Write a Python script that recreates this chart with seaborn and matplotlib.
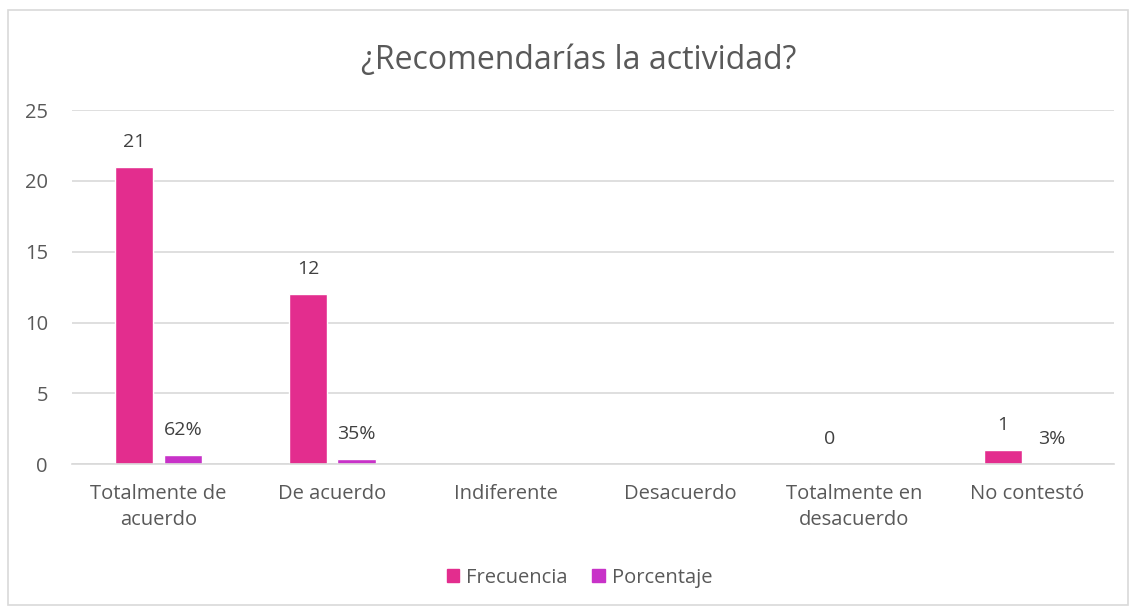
import numpy as np
import pandas as pd
import matplotlib.pyplot as plt
import seaborn as sns
from matplotlib.patches import Rectangle

categories = ["Totalmente de\nacuerdo", "De acuerdo", "Indiferente", "Desacuerdo",
              "Totalmente en\ndesacuerdo", "No contestó"]
frecuencia = [21, 12, np.nan, np.nan, 0, 1]
porcentaje = [0.62, 0.35, np.nan, np.nan, np.nan, 0.03]
series = ["Frecuencia", "Porcentaje"]
colors = ["#E32D8E", "#C832C8"]

df = pd.DataFrame({
    "categoria": categories * 2,
    "valor": frecuencia + porcentaje,
    "serie": [series[0]] * len(categories) + [series[1]] * len(categories),
})

sns.set_style("white")
plt.rcParams["font.family"] = ["Open Sans", "DejaVu Sans"]
text_color = "#595959"

fig = plt.figure(figsize=(11.36, 6.09), dpi=100)
ax = fig.add_axes([0.063, 0.238, 0.918, 0.581])

sns.barplot(data=df, x="categoria", y="valor", hue="serie", order=categories,
            hue_order=series, palette=colors, width=0.56, gap=0.21,
            saturation=1, legend=False, ax=ax)

# data labels
for si, cont in enumerate(ax.containers):
    vals = frecuencia if si == 0 else porcentaje
    for bar in cont:
        h = bar.get_height()
        if np.isnan(h):
            continue
        i = int(round(bar.get_x() + bar.get_width() / 2))
        v = vals[i]
        if np.isnan(v):
            continue
        txt = f"{v:.0f}" if si == 0 else f"{v * 100:.0f}%"
        ax.annotate(txt, (bar.get_x() + bar.get_width() / 2, h), xytext=(0, 18),
                    textcoords="offset points", ha="center", va="center",
                    fontsize=14, color="#404040")

ax.set_ylim(0, 25)
ax.set_yticks(range(0, 26, 5))
ax.set_xlim(-0.5, 5.5)
ax.grid(axis="y", color="#D9D9D9", linewidth=1.2)
ax.set_axisbelow(True)
for s in ["top", "right", "left"]:
    ax.spines[s].set_visible(False)
ax.spines["bottom"].set_color("#D9D9D9")
ax.spines["bottom"].set_linewidth(1.2)
ax.tick_params(axis="both", length=0, labelsize=14.5, colors=text_color)
ax.tick_params(axis="y", pad=17)
ax.tick_params(axis="x", pad=14)
for lbl in ax.get_xticklabels():
    lbl.set_linespacing(1.45)
ax.set_xlabel("")
ax.set_ylabel("")

fig.text(0.509, 0.9, "¿Recomendarías la actividad?", ha="center", va="center",
         fontsize=23, color=text_color)

handles = [Rectangle((0, 0), 1, 1, color=c) for c in colors]
fig.legend(handles, series, loc="center", bbox_to_anchor=(0.51, 0.051), ncol=2,
           frameon=False, handlelength=0.62, handleheight=0.62, handletextpad=0.33,
           columnspacing=1.25, fontsize=14.5, labelcolor=text_color)

fig.patches.append(Rectangle((8 / 1136, 4 / 609), 1120 / 1136, 595 / 609,
                             transform=fig.transFigure, fill=False,
                             edgecolor="#D9D9D9", linewidth=1.2))

fig.savefig("out.png", dpi=100)
